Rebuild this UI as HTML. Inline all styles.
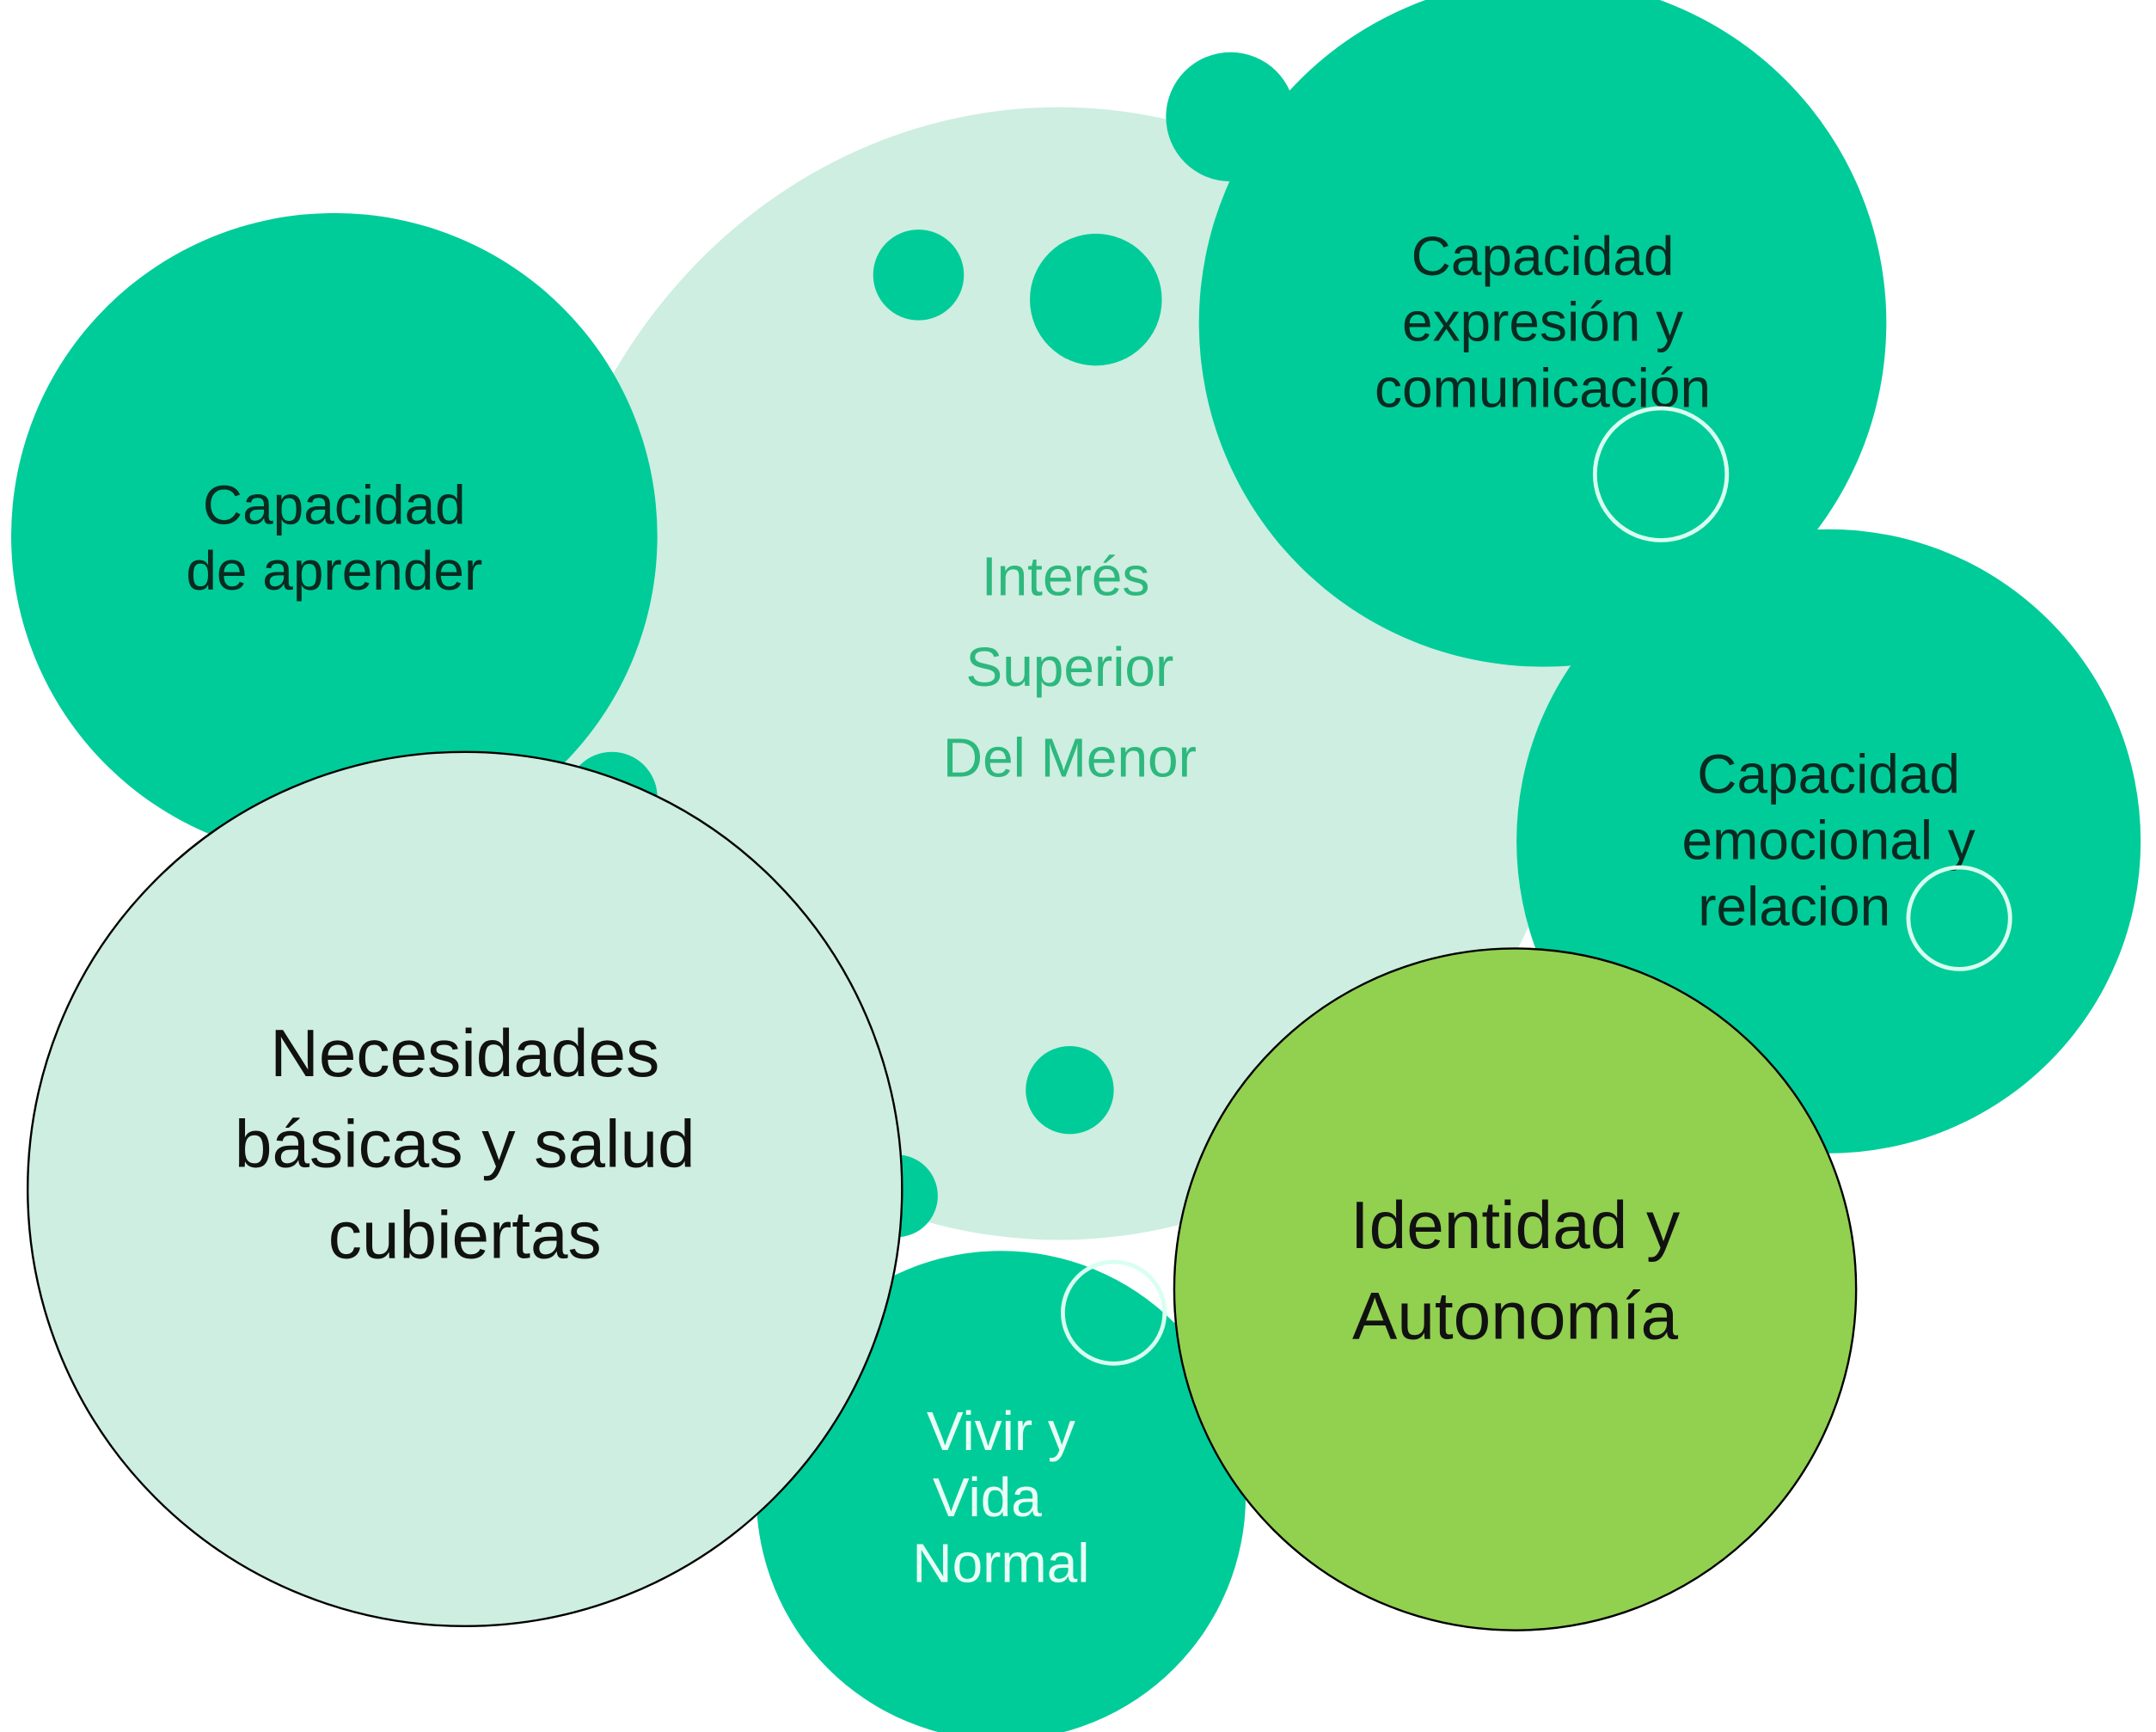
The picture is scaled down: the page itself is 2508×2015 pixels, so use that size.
<!DOCTYPE html>
<html><head><meta charset="utf-8"><style>html,body{margin:0;padding:0;background:#fff}svg{display:block}</style></head>
<body>
<svg width="2508" height="2015" viewBox="0 0 1568 1260" xmlns="http://www.w3.org/2000/svg" font-family="Liberation Sans, Arial, sans-serif">
<rect width="1568" height="1260" fill="#fff"/>
<ellipse cx="770" cy="490" rx="382" ry="412" fill="#cdeee0"/>
<circle cx="895" cy="85" r="47" fill="#00cc99"/>
<circle cx="668" cy="200" r="33" fill="#00cc99"/>
<circle cx="797" cy="218" r="48" fill="#00cc99"/>
<circle cx="445" cy="580" r="33" fill="#00cc99"/>
<circle cx="778" cy="793" r="32" fill="#00cc99"/>
<circle cx="652" cy="870" r="30" fill="#00cc99"/>
<circle cx="243" cy="390" r="235" fill="#00cc99"/>
<circle cx="1122" cy="235" r="250" fill="#00cc99"/>
<circle cx="1330" cy="612" r="227" fill="#00cc99"/>
<circle cx="728" cy="1088" r="178" fill="#00cc99"/>
<circle cx="338" cy="865" r="318" fill="#cdeee0" stroke="#000" stroke-width="1.5"/>
<circle cx="1102" cy="938" r="248" fill="#92d050" stroke="#000" stroke-width="1.5"/>
<g font-size="40" fill="#0a2a20" text-anchor="middle">
<text x="243" y="381">Capacidad</text><text x="243" y="429">de aprender</text>
<text x="1122" y="200">Capacidad</text><text x="1122" y="248">expresión y</text><text x="1122" y="296">comunicación</text>
<text x="1330" y="577">Capacidad</text><text x="1330" y="625">emocional y</text><text x="1305" y="673">relacion</text>
</g>
<g font-size="40" fill="#2db87e" text-anchor="middle">
<text x="775" y="433">Interés</text><text x="778" y="499">Superior</text><text x="778" y="565">Del Menor</text>
</g>
<g font-size="49" fill="#111" text-anchor="middle">
<text x="338" y="783">Necesidades</text><text x="338" y="849">básicas y salud</text><text x="338" y="915">cubiertas</text>
<text x="1102" y="908">Identidad y</text><text x="1102" y="974">Autonomía</text>
</g>
<g font-size="40" fill="#e8fff5" text-anchor="middle">
<text x="728" y="1055">Vivir y</text><text x="718" y="1103">Vida</text><text x="728" y="1151">Normal</text>
</g>
<circle cx="1208" cy="345" r="48" fill="none" stroke="#d8fff0" stroke-width="3"/>
<circle cx="1425" cy="668" r="37" fill="none" stroke="#d8fff0" stroke-width="3"/>
<circle cx="810" cy="955" r="37" fill="none" stroke="#d8fff0" stroke-width="3"/>
</svg>
</body></html>
